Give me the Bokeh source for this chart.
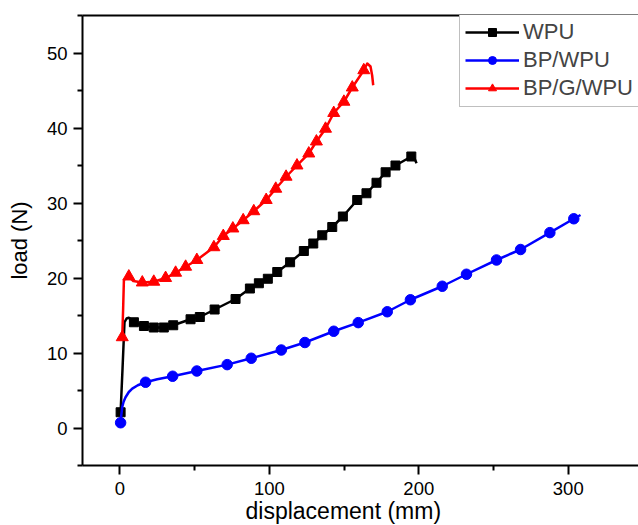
from bokeh.plotting import figure
from bokeh.models import Range1d, FixedTicker, LinearAxis, Legend, LegendItem, Title
from bokeh.embed import file_html
from bokeh.resources import INLINE

# ---- data ----
wpu_x = [0.5, 1.8, 3.1, 4.5, 6.0, 9.4, 16.1, 22.7, 29.4, 35.7, 47.3, 53.5, 63.4, 77.4, 87.0, 93.0,
         99.0, 105.3, 113.9, 123.1, 129.4, 135.4, 142.1, 149.2, 158.8, 165.0, 171.7, 177.8, 184.4,
         195.0, 197.0, 198.5]
wpu_y = [2.1, 8.0, 14.1, 14.6, 14.7, 14.1, 13.6, 13.4, 13.4, 13.7, 14.5, 14.8, 15.8, 17.2, 18.6, 19.3,
         19.9, 20.8, 22.1, 23.6, 24.6, 25.7, 26.8, 28.2, 30.4, 31.3, 32.7, 34.1, 35.0,
         36.2, 36.0, 35.3]
wpu_markers = [0, 5, 6, 7, 8, 9, 10, 11, 12, 13, 14, 15, 16, 17, 18, 19, 20, 21, 22, 23, 24, 25,
               26, 27, 28, 29]

bp_x = [0.5, 1.0, 1.6, 2.5, 3.8, 6.0, 8.3, 12.0, 17.2, 25.0, 35.3, 51.5, 71.8, 87.9, 108.0, 123.8,
        143.1, 159.5, 178.9, 194.4, 215.7, 231.9, 252.0, 268.1, 287.7, 303.7, 308.2]
bp_y = [0.7, 1.8, 2.8, 3.5, 4.1, 4.8, 5.25, 5.7, 6.1, 6.5, 6.9, 7.6, 8.45, 9.3, 10.4, 11.4,
        12.9, 14.05, 15.5, 17.1, 18.9, 20.5, 22.4, 23.8, 26.05, 27.9, 28.4]
bp_markers = [0, 8, 10, 11, 12, 13, 14, 15, 16, 17, 18, 19, 20, 21, 22, 23, 24, 25]

bpg_x = [1.6, 2.2, 2.7, 4.0, 6.0, 9.0, 15.0, 22.7, 30.6, 37.3, 44.0, 51.5, 62.9, 69.2, 75.6, 82.5,
         89.6, 97.9, 104.3, 111.2, 118.5, 126.4, 131.5, 137.6, 143.1, 149.9, 155.5, 163.2, 165.5,
         167.7, 168.8, 169.5]
bpg_y = [12.1, 16.0, 19.7, 20.0, 20.2, 19.6, 19.4, 19.5, 20.0, 20.7, 21.5, 22.4, 24.1, 25.6, 26.6, 27.7,
         28.9, 30.4, 31.9, 33.5, 35.0, 36.6, 38.2, 39.9, 42.0, 43.5, 45.4, 47.7, 48.6,
         48.2, 47.0, 45.7]
bpg_markers = [0, 4, 6, 7, 8, 9, 10, 11, 12, 13, 14, 15, 16, 17, 18, 19, 20, 21, 22, 23, 24, 25, 26, 27]

x_ticks = [0, 100, 200, 300]
x_minor = [50, 150, 250]
y_ticks = [0, 10, 20, 30, 40, 50]
y_minor = [-5, 5, 15, 25, 35, 45, 55]

FONT = "Liberation Sans"

p = figure(width=638, height=525, x_range=Range1d(-25, 347.0), y_range=Range1d(-5, 55),
           output_backend="svg", toolbar_location=None,
           min_border_left=82, min_border_right=0, min_border_top=15, min_border_bottom=60)
p.outline_line_color = None
p.xgrid.visible = False
p.ygrid.visible = False
p.background_fill_color = "white"
p.border_fill_color = "white"

xa = p.below[0]
ya = p.left[0]
xa.ticker = FixedTicker(ticks=x_ticks, minor_ticks=x_minor)
ya.ticker = FixedTicker(ticks=y_ticks, minor_ticks=y_minor)
for ax in (xa, ya):
    ax.axis_line_width = 2
    ax.axis_line_color = "black"
    ax.major_tick_line_width = 2
    ax.minor_tick_line_width = 2
    ax.major_tick_line_color = "black"
    ax.minor_tick_line_color = "black"
    ax.major_tick_in = 0
    ax.major_tick_out = 9
    ax.minor_tick_in = 0
    ax.minor_tick_out = 5
    ax.major_label_text_font = FONT
    ax.major_label_text_font_size = "18.5px"
    ax.major_label_text_color = "black"
xa.major_label_standoff = 7
ya.major_label_standoff = 6
ya.axis_label = "load (N)"
ya.axis_label_text_font = FONT
ya.axis_label_text_font_size = "22px"
ya.axis_label_text_font_style = "normal"
ya.axis_label_text_color = "black"
ya.axis_label_standoff = 12

top = LinearAxis(ticker=FixedTicker(ticks=[]), axis_line_width=2, axis_line_color="black",
                 major_tick_out=0, major_tick_in=0, minor_tick_out=0, minor_tick_in=0,
                 major_label_standoff=0, major_label_text_font_size="0px")
p.add_layout(top, "above")

series = [
    ("WPU", wpu_x, wpu_y, wpu_markers, "black", "square", 9),
    ("BP/WPU", bp_x, bp_y, bp_markers, "blue", "circle", 10.5),
    ("BP/G/WPU", bpg_x, bpg_y, bpg_markers, "red", "triangle", 12),
]
items = []
for name, xs, ys, idx, col, mk, sz in series:
    ln = p.line(xs, ys, line_color=col, line_width=2.5, line_join="round")
    sc = p.scatter([xs[i] for i in idx], [ys[i] for i in idx], marker=mk, size=sz,
                   fill_color=col, line_color=col)
    items.append(LegendItem(label=name, renderers=[ln, sc]))

legend = Legend(items=items, location=(377, 358), glyph_width=54, glyph_height=20,
                label_standoff=4, label_text_font=FONT, label_text_font_size="22px",
                label_height=26, spacing=2, padding=5, margin=0,
                border_line_color="#808080", border_line_width=1,
                background_fill_color="white", background_fill_alpha=1.0)
p.add_layout(legend, "center")

xtitle = Title(text="displacement (mm)", align="left", offset=163, text_font=FONT,
               text_font_size="23px", text_font_style="normal", text_color="black",
               vertical_align="top", standoff=0, text_line_height=0.35)
p.add_layout(xtitle, "below")

open("out.html", "w").write(file_html(p, INLINE))
